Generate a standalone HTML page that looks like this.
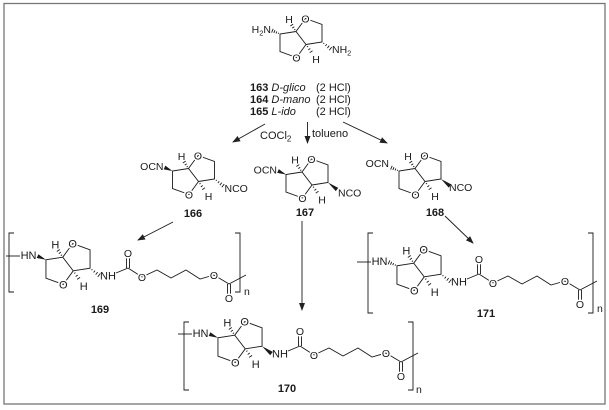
<!DOCTYPE html>
<html><head><meta charset="utf-8"><style>
html,body{margin:0;padding:0;background:#fff;}
svg{display:block;}
text{font-family:"Liberation Sans",Arial,sans-serif;font-size:10.5px;fill:#1a1a1a;}
.o{text-anchor:middle;stroke:#fff;stroke-width:3;paint-order:stroke;}
.m{text-anchor:middle;}
.e{text-anchor:end;}
.b{font-weight:bold;font-size:11px;}
.n{font-weight:bold;font-size:11px;text-anchor:middle;}
.l{font-size:11px;}
</style></head><body>
<svg width="609" height="410" viewBox="0 0 609 410" xmlns="http://www.w3.org/2000/svg">
<defs>
<marker id="ah" markerWidth="8" markerHeight="6" refX="7" refY="3" orient="auto" markerUnits="userSpaceOnUse">
<path d="M0,0 L8,3 L0,6 Z" fill="#222"/>
</marker>
</defs>
<rect x="0" y="0" width="609" height="410" fill="#fff"/>
<rect x="4" y="3.5" width="601" height="400.5" fill="none" stroke="#777" stroke-width="1.3"/>

<g stroke="#1a1a1a" stroke-width="0.9" fill="none">
<!-- arrows -->
<line x1="265" y1="124" x2="233" y2="142" marker-end="url(#ah)"/>
<line x1="307.5" y1="122" x2="307.5" y2="143" marker-end="url(#ah)"/>
<line x1="343" y1="122" x2="387" y2="143" marker-end="url(#ah)"/>
<line x1="173" y1="222" x2="138" y2="240" marker-end="url(#ah)"/>
<line x1="302" y1="221" x2="302" y2="310" marker-end="url(#ah)"/>
<line x1="445" y1="216" x2="473" y2="243" marker-end="url(#ah)"/>
</g>

<!-- reaction text -->
<text x="260" y="139" class="l">COCl<tspan font-size="8" dy="2.5">2</tspan></text>
<text x="312" y="137" class="l">tolueno</text>

<text x="250" y="91" class="l"><tspan font-weight="bold">163</tspan> <tspan font-style="italic">D-glico</tspan></text>
<text x="316" y="91" class="l">(2 HCl)</text>
<text x="250" y="103" class="l"><tspan font-weight="bold">164</tspan> <tspan font-style="italic">D-mano</tspan></text>
<text x="316" y="103" class="l">(2 HCl)</text>
<text x="250" y="115" class="l"><tspan font-weight="bold">165</tspan> <tspan font-style="italic">L-ido</tspan></text>
<text x="316" y="115" class="l">(2 HCl)</text>

<text x="193" y="217" class="n">166</text>
<text x="305" y="216" class="n">167</text>
<text x="435" y="216" class="n">168</text>
<text x="100" y="313" class="n">169</text>
<text x="287" y="392" class="n">170</text>
<text x="486" y="317" class="n">171</text>

<!-- ===== 163 ===== -->
<g transform="translate(301,38)">
<g stroke="#1a1a1a" stroke-width="0.9" fill="none">
<path d="M-5,-6.5 L-21,-4 L-21,13.5 L-4.5,19.5 L5,6.5 Z M-5,-6.5 L4.5,-19.5 L21,-13.5 L21,4 L5,6.5"/>
<path d="M-5.67,-8.79 L-6.83,-8.01 M-6.75,-11.27 L-8.75,-9.93 M-7.84,-13.85 L-10.66,-11.95"/>
<path d="M5.93,9 L7.07,8.2 M7.32,11.9 L9.28,10.5 M8.71,14.69 L11.49,12.71"/>
<path d="M-22.36,-5.25 L-22.84,-4.15 M-24.16,-6.61 L-25.04,-4.59 M-26,-7.83 L-27.2,-5.07 M-27.8,-9.14 L-29.4,-5.46"/>
<path d="M22.43,5.87 L23.17,4.93 M24.38,8.02 L25.72,6.28 M26.38,10.09 L28.22,7.71 M28.33,12.23 L30.77,9.07"/>
</g>
<text x="-12" y="-15" class="m">H</text><text x="15" y="25" class="m">H</text>
<text x="4.5" y="-15.7" class="o">O</text><text x="-4.5" y="23.3" class="o">O</text>
<text x="-30" y="-5" class="e">H<tspan font-size="7.5" dy="2.5">2</tspan><tspan dy="-2.5">N</tspan></text>
<text x="31" y="15">NH<tspan font-size="7.5" dy="2.5">2</tspan></text>
</g>

<!-- ===== 166 ===== -->
<g transform="translate(193.5,175)">
<g stroke="#1a1a1a" stroke-width="0.9" fill="none">
<path d="M-5,-6.5 L-21,-4 L-21,13.5 L-4.5,19.5 L5,6.5 Z M-5,-6.5 L4.5,-19.5 L21,-13.5 L21,4 L5,6.5"/>
<path d="M-5.67,-8.79 L-6.83,-8.01 M-6.75,-11.27 L-8.75,-9.93 M-7.84,-13.85 L-10.66,-11.95"/>
<path d="M5.93,9 L7.07,8.2 M7.32,11.9 L9.28,10.5 M8.71,14.69 L11.49,12.71"/>
<path d="M22.43,5.87 L23.17,4.93 M24.38,8.02 L25.72,6.28 M26.38,10.09 L28.22,7.71 M28.33,12.23 L30.77,9.07"/>
</g>
<polygon points="-21,-4 -28.2,-9.34 -29.8,-5.66" fill="#1a1a1a"/>
<text x="-12" y="-15" class="m">H</text><text x="15" y="25" class="m">H</text>
<text x="4.5" y="-15.7" class="o">O</text><text x="-4.5" y="23.3" class="o">O</text>
<text x="-30" y="-5" class="e">OCN</text>
<text x="31" y="17">NCO</text>
</g>

<!-- ===== 167 ===== -->
<g transform="translate(307,178.5)">
<g stroke="#1a1a1a" stroke-width="0.9" fill="none">
<path d="M-5,-6.5 L-21,-4 L-21,13.5 L-4.5,19.5 L5,6.5 Z M-5,-6.5 L4.5,-19.5 L21,-13.5 L21,4 L5,6.5"/>
<path d="M-5.67,-8.79 L-6.83,-8.01 M-6.75,-11.27 L-8.75,-9.93 M-7.84,-13.85 L-10.66,-11.95"/>
<path d="M5.93,9 L7.07,8.2 M7.32,11.9 L9.28,10.5 M8.71,14.69 L11.49,12.71"/>
</g>
<polygon points="-21,-4 -28.2,-9.34 -29.8,-5.66" fill="#1a1a1a"/>
<polygon points="21,4 28.77,12.58 31.23,9.42" fill="#1a1a1a"/>
<text x="-12" y="-15" class="m">H</text><text x="15" y="25" class="m">H</text>
<text x="4.5" y="-15.7" class="o">O</text><text x="-4.5" y="23.3" class="o">O</text>
<text x="-30" y="-5" class="e">OCN</text>
<text x="31" y="18">NCO</text>
</g>

<!-- ===== 168 ===== -->
<g transform="translate(420,175)">
<g stroke="#1a1a1a" stroke-width="0.9" fill="none">
<path d="M-5,-6.5 L-21,-4 L-21,13.5 L-4.5,19.5 L5,6.5 Z M-5,-6.5 L4.5,-19.5 L21,-13.5 L21,4 L5,6.5"/>
<path d="M-5.67,-8.79 L-6.83,-8.01 M-6.75,-11.27 L-8.75,-9.93 M-7.84,-13.85 L-10.66,-11.95"/>
<path d="M5.93,9 L7.07,8.2 M7.32,11.9 L9.28,10.5 M8.71,14.69 L11.49,12.71"/>
<path d="M-22.36,-5.25 L-22.84,-4.15 M-24.16,-6.61 L-25.04,-4.59 M-26,-7.83 L-27.2,-5.07 M-27.8,-9.14 L-29.4,-5.46"/>
</g>
<polygon points="21,4 28.77,12.58 31.23,9.42" fill="#1a1a1a"/>
<text x="-12" y="-15" class="m">H</text><text x="15" y="25" class="m">H</text>
<text x="4.5" y="-15.7" class="o">O</text><text x="-4.5" y="23.3" class="o">O</text>
<text x="-31" y="-8" class="e">OCN</text>
<text x="29" y="16">NCO</text>
</g>

<!-- ===== 169 ===== -->
<g>
<g stroke="#1a1a1a" stroke-width="0.9" fill="none">
<line x1="6" y1="256" x2="20" y2="256"/>
<path d="M116,273 L128,268 M128,268 L142,277 M142,277 L157,270 L171,278 L186,270 L200,279 L214,275 M214,275 L229,284 L246,275"/>
<path d="M126.5,268 L126.5,255 M129.5,268 L129.5,255"/>
<path d="M227.5,284 L227.5,298 M230.5,284 L230.5,298"/>
</g>
<text x="128" y="257" class="o">O</text>
<text x="142" y="281" class="o">O</text>
<text x="214" y="279" class="o">O</text>
<text x="229" y="302" class="o">O</text>
<g transform="translate(68,264) scale(1.05)">
<g stroke="#1a1a1a" stroke-width="0.86" fill="none">
<path d="M-5,-6.5 L-21,-4 L-21,13.5 L-4.5,19.5 L5,6.5 Z M-5,-6.5 L4.5,-19.5 L21,-13.5 L21,4 L5,6.5"/>
<path d="M-5.67,-8.79 L-6.83,-8.01 M-6.75,-11.27 L-8.75,-9.93 M-7.84,-13.85 L-10.66,-11.95"/>
<path d="M5.93,9 L7.07,8.2 M7.32,11.9 L9.28,10.5 M8.71,14.69 L11.49,12.71"/>
<path d="M22.43,5.87 L23.17,4.93 M24.38,8.02 L25.72,6.28 M26.38,10.09 L28.22,7.71 M28.33,12.23 L30.77,9.07"/>
</g>
<polygon points="-21,-4 -28.2,-9.34 -29.8,-5.66" fill="#1a1a1a"/>
<text x="-12" y="-15" class="m">H</text><text x="15" y="25" class="m">H</text>
<text x="4.5" y="-15.7" class="o">O</text><text x="-4.5" y="23.3" class="o">O</text>
<text x="-30" y="-5" class="e">HN</text>
<text x="30.5" y="15">NH</text>
</g>
</g>
<path d="M14,233 L9,233 L9,292 L14,292 M235,233 L240,233 L240,292 L235,292" stroke="#1a1a1a" stroke-width="0.9" fill="none"/>
<text x="244" y="295">n</text>

<!-- ===== 170 ===== -->
<g transform="translate(172,78)">
<g stroke="#1a1a1a" stroke-width="0.9" fill="none">
<line x1="6" y1="256" x2="20" y2="256"/>
<path d="M116,273 L128,268 M128,268 L142,277 M142,277 L157,270 L171,278 L186,270 L200,279 L214,275 M214,275 L229,284 L246,275"/>
<path d="M126.5,268 L126.5,255 M129.5,268 L129.5,255"/>
<path d="M227.5,284 L227.5,298 M230.5,284 L230.5,298"/>
</g>
<text x="128" y="257" class="o">O</text>
<text x="142" y="281" class="o">O</text>
<text x="214" y="279" class="o">O</text>
<text x="229" y="302" class="o">O</text>
<g transform="translate(68,264) scale(1.05)">
<g stroke="#1a1a1a" stroke-width="0.86" fill="none">
<path d="M-5,-6.5 L-21,-4 L-21,13.5 L-4.5,19.5 L5,6.5 Z M-5,-6.5 L4.5,-19.5 L21,-13.5 L21,4 L5,6.5"/>
<path d="M-5.67,-8.79 L-6.83,-8.01 M-6.75,-11.27 L-8.75,-9.93 M-7.84,-13.85 L-10.66,-11.95"/>
<path d="M5.93,9 L7.07,8.2 M7.32,11.9 L9.28,10.5 M8.71,14.69 L11.49,12.71"/>
</g>
<polygon points="-21,-4 -28.2,-9.34 -29.8,-5.66" fill="#1a1a1a"/>
<polygon points="21,4 28.77,12.58 31.23,9.42" fill="#1a1a1a"/>
<text x="-12" y="-15" class="m">H</text><text x="15" y="25" class="m">H</text>
<text x="4.5" y="-15.7" class="o">O</text><text x="-4.5" y="23.3" class="o">O</text>
<text x="-30" y="-5" class="e">HN</text>
<text x="30.5" y="15">NH</text>
</g>
</g>
<path d="M189,322 L184,322 L184,390 L189,390 M408,322 L413,322 L413,390 L408,390" stroke="#1a1a1a" stroke-width="0.9" fill="none"/>
<text x="416" y="393">n</text>

<!-- ===== 171 ===== -->
<g transform="translate(351,6)">
<g stroke="#1a1a1a" stroke-width="0.9" fill="none">
<line x1="6" y1="256" x2="20" y2="256"/>
<path d="M116,273 L128,268 M128,268 L142,277 M142,277 L157,270 L171,278 L186,270 L200,279 L214,275 M214,275 L229,284 L246,275"/>
<path d="M126.5,268 L126.5,255 M129.5,268 L129.5,255"/>
<path d="M227.5,284 L227.5,298 M230.5,284 L230.5,298"/>
</g>
<text x="128" y="257" class="o">O</text>
<text x="142" y="281" class="o">O</text>
<text x="214" y="279" class="o">O</text>
<text x="229" y="302" class="o">O</text>
<g transform="translate(68,264) scale(1.05)">
<g stroke="#1a1a1a" stroke-width="0.86" fill="none">
<path d="M-5,-6.5 L-21,-4 L-21,13.5 L-4.5,19.5 L5,6.5 Z M-5,-6.5 L4.5,-19.5 L21,-13.5 L21,4 L5,6.5"/>
<path d="M-5.67,-8.79 L-6.83,-8.01 M-6.75,-11.27 L-8.75,-9.93 M-7.84,-13.85 L-10.66,-11.95"/>
<path d="M5.93,9 L7.07,8.2 M7.32,11.9 L9.28,10.5 M8.71,14.69 L11.49,12.71"/>
<path d="M-22.36,-5.25 L-22.84,-4.15 M-24.16,-6.61 L-25.04,-4.59 M-26,-7.83 L-27.2,-5.07 M-27.8,-9.14 L-29.4,-5.46"/>
<path d="M22.43,5.87 L23.17,4.93 M24.38,8.02 L25.72,6.28 M26.38,10.09 L28.22,7.71 M28.33,12.23 L30.77,9.07"/>
</g>
<text x="-12" y="-15" class="m">H</text><text x="15" y="25" class="m">H</text>
<text x="4.5" y="-15.7" class="o">O</text><text x="-4.5" y="23.3" class="o">O</text>
<text x="-30" y="-5" class="e">HN</text>
<text x="30.5" y="15">NH</text>
</g>
</g>
<path d="M373,233 L368,233 L368,313 L373,313 M588,233 L593,233 L593,313 L588,313" stroke="#1a1a1a" stroke-width="0.9" fill="none"/>
<text x="597" y="312">n</text>
</svg>
</body></html>
